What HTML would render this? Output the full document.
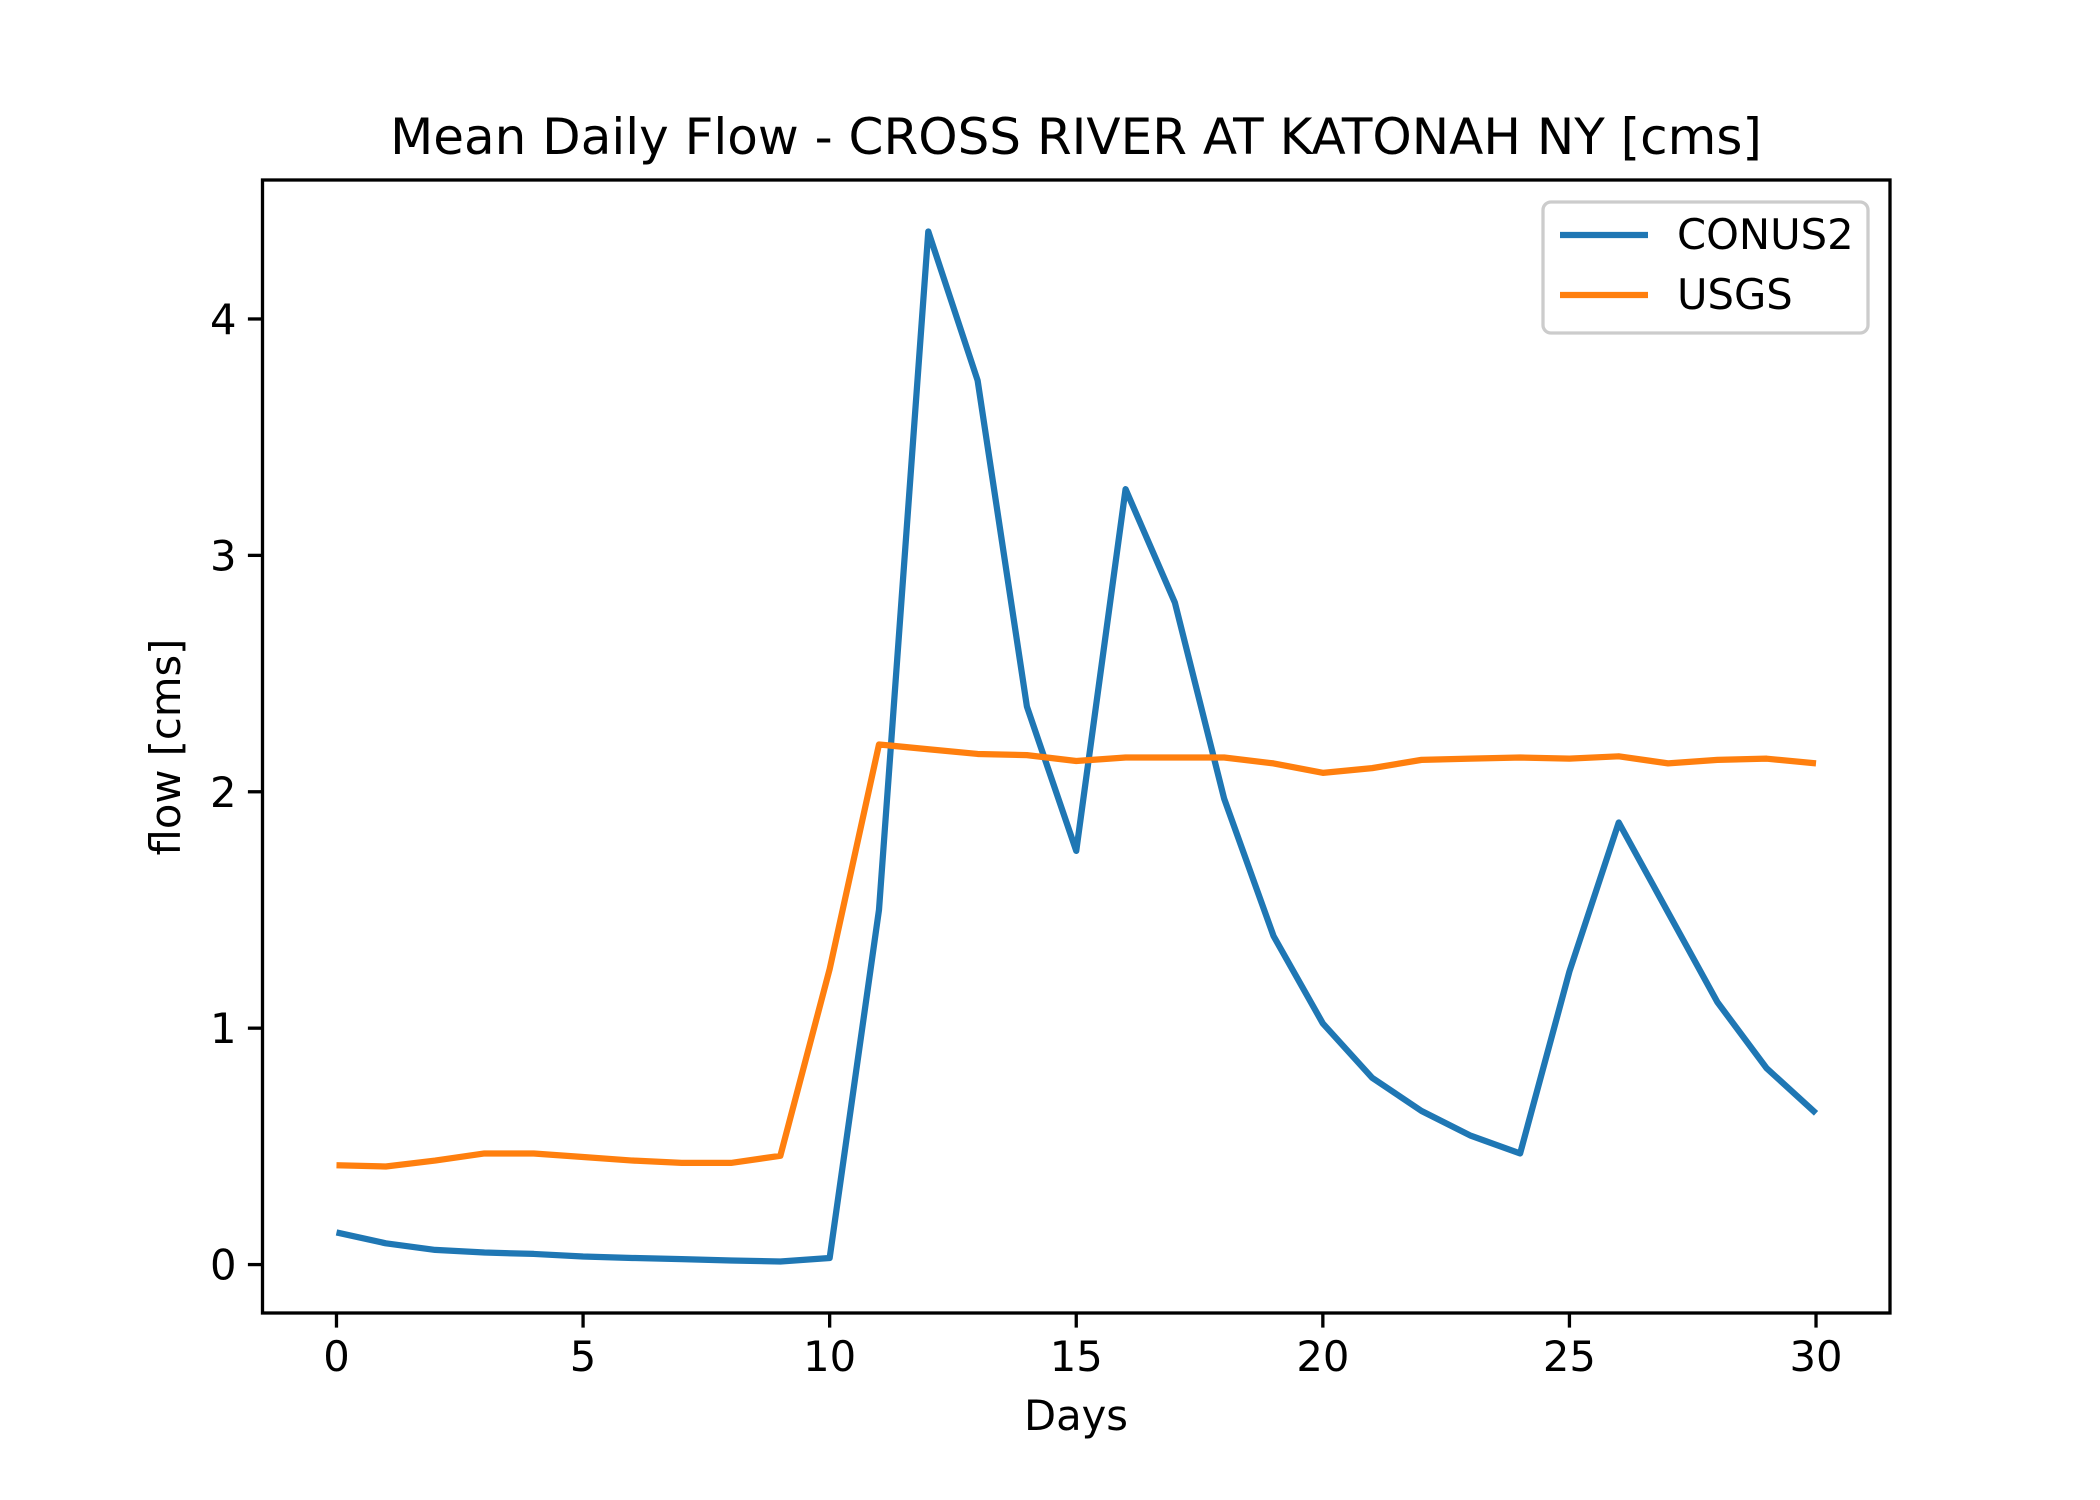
<!DOCTYPE html>
<html><head><meta charset="utf-8"><style>
html,body{margin:0;padding:0;background:#fff;}
svg{display:block;font-family:"DejaVu Sans","Liberation Sans",sans-serif;}
</style></head><body>
<svg id="chart" width="2100" height="1500" viewBox="0 0 2100 1500">
<rect width="2100" height="1500" fill="#fff"/>
<text x="1076" y="154" font-size="50" text-anchor="middle">Mean Daily Flow - CROSS RIVER AT KATONAH NY [cms]</text>
<g id="plot"></g>
<rect x="262.5" y="180" width="1627.5" height="1133" fill="none" stroke="#000" stroke-width="3.3"/>
<text x="1076" y="1430" font-size="41.7" text-anchor="middle">Days</text>
<text transform="translate(180,747) rotate(-90)" font-size="41.7" text-anchor="middle">flow [cms]</text>
<g>
<rect x="1543" y="202" width="325" height="131" rx="8" fill="#fff" stroke="#ccc" stroke-width="3.3"/>
<line x1="1560" y1="235" x2="1648" y2="235" stroke="#1f77b4" stroke-width="6.25"/>
<text x="1677" y="249" font-size="41.7">CONUS2</text>
<line x1="1560" y1="295" x2="1648" y2="295" stroke="#ff7f0e" stroke-width="6.25"/>
<text x="1677" y="309" font-size="41.7">USGS</text>
</g>
</svg>
<script>
const days=[0,1,2,3,4,5,6,7,8,9,10,11,12,13,14,15,16,17,18,19,20,21,22,23,24,25,26,27,28,29,30];
const conus2=[0.136,0.09,0.062,0.051,0.045,0.034,0.028,0.023,0.017,0.013,0.028,1.50,4.37,3.74,2.36,1.75,3.28,2.80,1.97,1.39,1.02,0.79,0.65,0.545,0.47,1.24,1.87,1.49,1.11,0.83,0.64];
const usgs=[0.42,0.415,0.44,0.47,0.47,0.455,0.44,0.43,0.43,0.46,1.25,2.20,2.18,2.16,2.155,2.13,2.145,2.145,2.145,2.12,2.08,2.10,2.135,2.14,2.145,2.14,2.15,2.12,2.135,2.14,2.12];
const xTicks=[0,5,10,15,20,25,30];
const yTicks=[0,1,2,3,4];
const L=262.5,R=1890,T=180,B=1313;
const all=conus2.concat(usgs);
const ymin=Math.min(...all),ymax=Math.max(...all),yr=ymax-ymin;
const y0=ymin-0.05*yr,y1=ymax+0.05*yr;
const x0=days[0]-0.05*(days[days.length-1]-days[0]),x1=days[days.length-1]+0.05*(days[days.length-1]-days[0]);
const sx=v=>L+(v-x0)/(x1-x0)*(R-L);
const sy=v=>B-(v-y0)/(y1-y0)*(B-T);
const NS="http://www.w3.org/2000/svg";
const g=document.getElementById('plot');
function mk(t,a){const e=document.createElementNS(NS,t);for(const k in a)e.setAttribute(k,a[k]);g.appendChild(e);return e;}
xTicks.forEach(v=>{
 const l=mk('line',{x1:sx(v),x2:sx(v),y1:B,y2:B+14.6,stroke:'#000','stroke-width':3.3});
 
 
 const t=mk('text',{x:sx(v),y:B+58,'font-size':41.7,'text-anchor':'middle'});t.textContent=v;
 
 
});
yTicks.forEach(v=>{
 const l=mk('line',{x1:L-14.6,x2:L,y1:sy(v),y2:sy(v),stroke:'#000','stroke-width':3.3});
 
 
 const t=mk('text',{x:L-26,y:sy(v)+15,'font-size':41.7,'text-anchor':'end'});t.textContent=v;
 
 
});
function series(vals,color,name){
 const p=mk('polyline',{points:vals.map((v,i)=>sx(days[i])+','+sy(v)).join(' '),fill:'none',stroke:color,'stroke-width':6.25,'stroke-linejoin':'round'});
 
 
}
series(conus2,'#1f77b4','conus2-line');
series(usgs,'#ff7f0e','usgs-line');
</script>
</body></html>
